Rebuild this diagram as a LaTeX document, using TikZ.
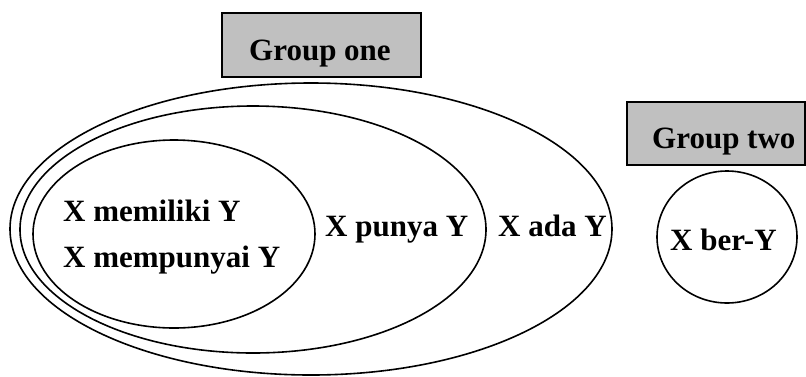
\documentclass[tikz,border=0pt]{standalone}
\usepackage{fontspec}
\setmainfont{Liberation Serif}
\usetikzlibrary{shapes.geometric}
\definecolor{boxgray}{HTML}{C0C0C0}
\tikzset{
  ring/.style={ellipse, draw=black, line width=1.6pt, inner sep=0pt},
  label/.style={anchor=base west, inner sep=0pt, font=\fontsize{31}{37}\selectfont\bfseries},
  groupbox/.style={draw=black, fill=boxgray, line width=1.6pt, inner sep=0pt}
}
\begin{document}
\begin{tikzpicture}[x=1pt, y=-1pt]
\useasboundingbox (0,0) rectangle (806,376);
% group one
\node[groupbox, minimum width=199pt, minimum height=64pt] (g1box) at (321.5,45) {};
\node[label] (g1) at (249,60) {Group one};
% ellipses
\node[ring, minimum width=602pt, minimum height=292pt] (outer) at (311,229) {};
\node[ring, minimum width=466pt, minimum height=247pt] (middle) at (253,229.5) {};
\node[ring, minimum width=282pt, minimum height=188pt] (inner) at (174,234) {};
\node[label] (t1) at (63,221) {X memiliki Y};
\node[label] (t2) at (63,267) {X mempunyai Y};
\node[label] (t3) at (325,236) {X punya Y};
\node[label] (t4) at (498,236) {X ada Y};
% group two
\node[groupbox, minimum width=178pt, minimum height=63pt] (g2box) at (716,133.5) {};
\node[label] (g2) at (652,148) {Group two};
\node[ring, minimum width=140pt, minimum height=132pt] (circ) at (727,237) {};
\node[label] (t5) at (670,250) {X ber-Y};
\end{tikzpicture}
\end{document}
